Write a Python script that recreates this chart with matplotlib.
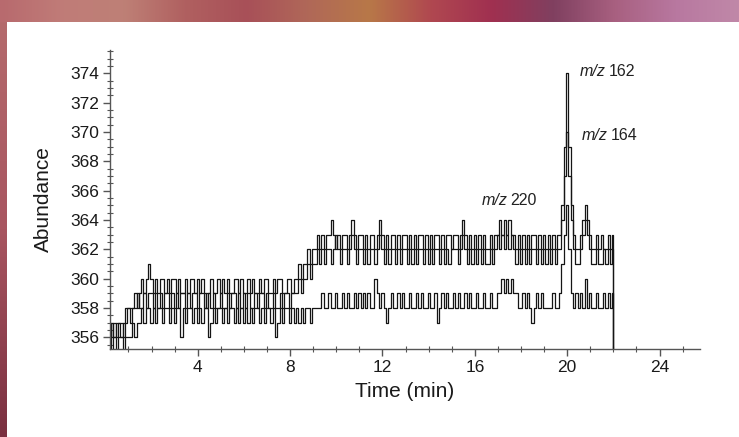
import numpy as np
import matplotlib
matplotlib.use("Agg")
import matplotlib.pyplot as plt
import matplotlib.ticker as mticker
from matplotlib.colors import LinearSegmentedColormap

# =====================================================
# DATA (0.1 min steps)
# =====================================================

t_start = 0.2
t_step = 0.1
t_end = 22.0

mz162 = [
    357, 356, 357, 356, 357, 357, 356, 358, 358, 358,
    358, 359, 358, 359, 360, 359, 360, 361, 360, 359,
    360, 359, 360, 360, 359, 360, 359, 360, 360, 359,
    360, 359, 359, 360, 359, 360, 360, 359, 360, 359,
    360, 359, 358, 359, 360, 359, 359, 360, 359, 360,
    359, 360, 359, 359, 360, 360, 359, 360, 359, 359,
    360, 359, 360, 359, 359, 360, 359, 360, 360, 359,
    359, 360, 359, 360, 360, 359, 359, 360, 360, 359,
    360, 360, 361, 360, 361, 361, 362, 361, 362, 362,
    363, 362, 363, 362, 363, 363, 364, 363, 362, 363,
    362, 363, 363, 362, 363, 364, 363, 362, 363, 363,
    362, 363, 362, 363, 363, 362, 363, 364, 363, 362,
    363, 362, 363, 363, 362, 363, 362, 363, 363, 362,
    363, 362, 363, 362, 363, 363, 362, 363, 362, 363,
    362, 363, 363, 362, 363, 362, 363, 363, 362, 363,
    363, 362, 363, 364, 363, 362, 363, 362, 363, 362,
    363, 362, 363, 362, 362, 363, 362, 363, 363, 364,
    363, 364, 363, 364, 363, 363, 362, 363, 362, 363,
    362, 363, 362, 363, 363, 362, 363, 362, 363, 362,
    363, 362, 363, 362, 363, 363, 365, 369, 374, 369,
    365, 363, 362, 362, 363, 364, 365, 364, 363, 362,
    362, 363, 362, 363, 362, 362, 363, 362, 363,
]

mz164 = [
    356, 357, 356, 357, 357, 356, 357, 357, 358, 357,
    358, 358, 359, 358, 358, 359, 358, 359, 359, 358,
    359, 358, 359, 358, 359, 359, 358, 359, 358, 359,
    358, 359, 359, 358, 359, 358, 359, 359, 358, 359,
    359, 358, 359, 359, 358, 359, 358, 358, 359, 358,
    358, 359, 358, 359, 359, 358, 359, 358, 359, 358,
    359, 358, 358, 359, 358, 359, 359, 358, 359, 358,
    358, 359, 358, 358, 359, 358, 359, 359, 358, 359,
    359, 359, 360, 359, 360, 360, 361, 360, 361, 361,
    362, 361, 362, 361, 362, 362, 361, 362, 363, 362,
    361, 362, 362, 361, 362, 363, 362, 361, 362, 362,
    361, 362, 361, 362, 362, 361, 362, 363, 362, 361,
    362, 361, 362, 362, 361, 362, 361, 362, 362, 361,
    362, 361, 362, 361, 362, 362, 361, 362, 361, 362,
    361, 362, 362, 361, 362, 361, 362, 361, 362, 362,
    362, 361, 362, 363, 362, 361, 362, 361, 362, 361,
    362, 361, 362, 361, 361, 362, 361, 362, 363, 362,
    363, 362, 363, 362, 363, 362, 361, 362, 361, 362,
    361, 362, 361, 362, 362, 361, 362, 361, 362, 361,
    362, 361, 362, 361, 362, 362, 364, 367, 370, 367,
    364, 362, 361, 361, 362, 363, 364, 363, 362, 361,
    361, 362, 361, 361, 362, 361, 362, 361, 362,
]

mz220 = [
    356, 355, 356, 355, 356, 356, 355, 356, 356, 356,
    357, 356, 357, 357, 358, 357, 358, 358, 357, 358,
    357, 358, 358, 357, 358, 358, 357, 358, 357, 358,
    358, 356, 358, 357, 358, 358, 357, 358, 357, 358,
    357, 358, 358, 356, 357, 358, 357, 358, 358, 357,
    358, 357, 358, 358, 357, 358, 357, 358, 357, 358,
    357, 358, 357, 358, 358, 357, 358, 357, 358, 358,
    357, 358, 356, 357, 358, 357, 358, 358, 357, 358,
    357, 358, 357, 358, 357, 358, 358, 357, 358, 358,
    358, 358, 359, 358, 358, 359, 358, 358, 359, 358,
    358, 359, 358, 359, 358, 358, 359, 358, 359, 358,
    359, 358, 359, 358, 358, 360, 359, 358, 359, 358,
    357, 358, 359, 358, 358, 359, 358, 359, 358, 358,
    359, 358, 358, 359, 358, 359, 358, 358, 359, 358,
    358, 359, 357, 358, 359, 358, 359, 358, 358, 359,
    358, 359, 358, 358, 359, 358, 359, 358, 358, 359,
    358, 358, 359, 358, 358, 359, 358, 358, 359, 359,
    360, 359, 360, 359, 360, 359, 359, 358, 358, 359,
    358, 359, 358, 357, 358, 359, 358, 359, 358, 358,
    358, 358, 359, 358, 358, 359, 361, 363, 365, 362,
    359, 358, 359, 358, 359, 358, 360, 358, 359, 358,
    358, 359, 358, 358, 359, 358, 359, 358, 359,
]

series_labels = ["162", "164", "220"]
label_pos = [(20.55, 374.1), (20.65, 369.8), (16.3, 365.3)]

x_ticks = [4, 8, 12, 16, 20, 24]
y_ticks = [356, 358, 360, 362, 364, 366, 368, 370, 372, 374]

# =====================================================
# FIGURE + DECORATED FRAME
# =====================================================

plt.rcParams["font.family"] = ["Liberation Sans", "DejaVu Sans"]

fig = plt.figure(figsize=(7.39, 4.37), dpi=100)
fig.patch.set_facecolor("white")

top_cols = ["#b86a6e", "#c07c78", "#be8076", "#b06060", "#a85058",
            "#b06858", "#b87848", "#b04850", "#a03050", "#804060",
            "#a86080", "#b878a0", "#c088a8"]
side_cols = ["#b46a6c", "#a85560", "#7a3040"]

ax_top = fig.add_axes([0, 415 / 437, 1, 22 / 437])
ax_top.imshow(np.linspace(0, 1, 256)[None, :], aspect="auto",
              cmap=LinearSegmentedColormap.from_list("top", top_cols))
ax_top.axis("off")

ax_side = fig.add_axes([0, 0, 7 / 739, 415 / 437])
ax_side.imshow(np.linspace(0, 1, 256)[:, None], aspect="auto",
               cmap=LinearSegmentedColormap.from_list("side", side_cols))
ax_side.axis("off")

# =====================================================
# CHROMATOGRAM
# =====================================================

ax = fig.add_axes([110 / 739, 88 / 437, 590 / 739, 299 / 437])

n = len(mz162)
tempo = t_start + t_step * np.arange(n)
tempo = np.append(tempo, t_end)

for serie in (mz220, mz164, mz162):
    y = np.append(np.array(serie, dtype=float), 355.0)
    ax.plot(tempo, y, color="#151515", linewidth=0.9,
            drawstyle="steps-mid")

ax.set_xlim(0.2, 25.75)
ax.set_ylim(355.2, 375.6)

for side in ("top", "right"):
    ax.spines[side].set_visible(False)
for side in ("left", "bottom"):
    ax.spines[side].set_color("#555555")
    ax.spines[side].set_linewidth(1.0)

ax.set_xticks(x_ticks)
ax.set_yticks(y_ticks)
ax.xaxis.set_minor_locator(mticker.MultipleLocator(1))
ax.yaxis.set_minor_locator(mticker.MultipleLocator(0.5))
ax.tick_params(which="major", direction="out", length=5, width=1.0,
               color="#555555", labelsize=12.5, labelcolor="#1a1a1a",
               pad=3)
ax.tick_params(which="minor", direction="inout", length=4, width=0.8,
               color="#555555")

ax.set_xlabel("Time (min)", fontsize=15, labelpad=5, color="#1a1a1a")
ax.set_ylabel("Abundance", fontsize=15, labelpad=12, color="#1a1a1a")

# =====================================================
# RÓTULOS m/z
# =====================================================

for lab, (xl, yl) in zip(series_labels, label_pos):
    t1 = ax.text(xl, yl, "m/z", fontsize=11.5, style="italic",
                 ha="left", va="center", color="#222222")
    ax.annotate(lab, xy=(1, 0.5), xycoords=t1, xytext=(2, 0),
                textcoords="offset points", fontsize=11.5,
                ha="left", va="center", color="#222222")

plt.savefig("out.png", dpi=100)
